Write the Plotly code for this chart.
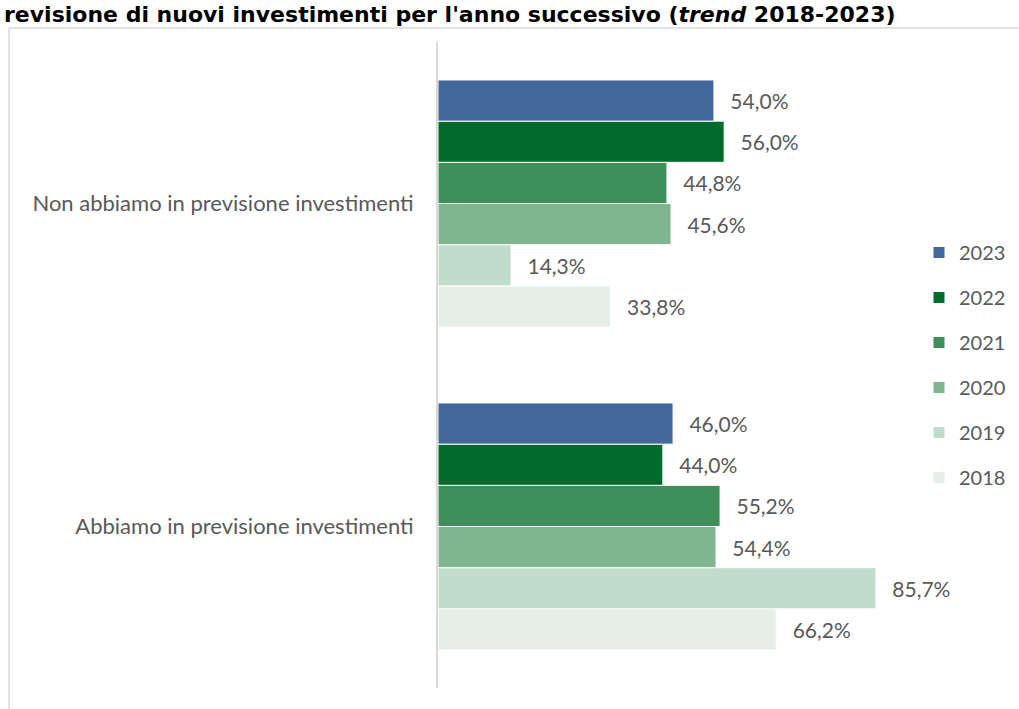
import plotly.graph_objects as go

categories = ["Non abbiamo in previsione investimenti", "Abbiamo in previsione investimenti"]
years = ["2023", "2022", "2021", "2020", "2019", "2018"]
values = {
    "2023": [54.0, 46.0],
    "2022": [56.0, 44.0],
    "2021": [44.8, 55.2],
    "2020": [45.6, 54.4],
    "2019": [14.3, 85.7],
    "2018": [33.8, 66.2],
}
colors = {
    "2023": "#43699B",
    "2022": "#006B2A",
    "2021": "#3F8F5A",
    "2020": "#80B68F",
    "2019": "#C0DCCA",
    "2018": "#E5EFE8",
}
title_text = "<b>revisione di nuovi investimenti per l'anno successivo (<i>trend</i> 2018-2023)</b>"

W, H = 1019, 709
L, R, T, B = 438, 70, 42, 21
pw, ph = W - L - R, H - T - B

def px_x(p):
    return (p - L) / pw

def px_y(p):
    return (H - B - p) / ph

fig = go.Figure()
for yr in reversed(years):
    fig.add_trace(go.Bar(
        y=categories, x=values[yr], orientation="h", name=yr,
        marker=dict(color=colors[yr], line=dict(color="white", width=1)),
        texttemplate="\u00a0\u00a0\u2009%{x:.1f}%",
        textposition="outside", cliponaxis=False,
        textfont=dict(family="Lato", size=21, color="#595959"),
        legendgroup=yr, legendrank=years.index(yr) + 1, hoverinfo="skip",
    ))

fig.update_layout(
    width=W, height=H,
    margin=dict(l=L, r=R, t=T, b=B, autoexpand=False),
    paper_bgcolor="white", plot_bgcolor="white",
    barmode="group", bargap=0.235, bargroupgap=0,
    separators=",.",
    font=dict(family="Lato", color="#595959"),
    xaxis=dict(range=[0, 100], visible=False),
    yaxis=dict(
        categoryorder="array", categoryarray=list(reversed(categories)),
        showline=True, linecolor="#D9D9D9", linewidth=2,
        ticks="", ticklabelstandoff=18,
        tickfont=dict(family="Lato", size=22, color="#595959"),
        showgrid=False, zeroline=False,
    ),
    legend=dict(
        x=px_x(919), xanchor="left", y=px_y(365), yanchor="middle",
        traceorder="grouped", tracegroupgap=16,
        font=dict(family="Lato", size=20, color="#595959"),
        bgcolor="rgba(0,0,0,0)",
    ),
    showlegend=True,
    shapes=[
        dict(type="line", xref="paper", yref="paper",
             x0=px_x(9), x1=px_x(9), y0=px_y(H + 5), y1=px_y(28),
             line=dict(color="#D9D9D9", width=1.5)),
        dict(type="line", xref="paper", yref="paper",
             x0=px_x(9), x1=px_x(W + 5), y0=px_y(28), y1=px_y(28),
             line=dict(color="#D9D9D9", width=1.5)),
    ],
    annotations=[
        dict(text=title_text, xref="paper", yref="paper",
             x=px_x(2), xanchor="left", y=px_y(0), yanchor="top",
             showarrow=False, font=dict(family="DejaVu Sans", size=22, color="#000000")),
    ],
)

fig.write_html("out.html", config={"displayModeBar": False},
               post_script="document.body.style.margin='0';document.body.style.overflow='hidden';")
